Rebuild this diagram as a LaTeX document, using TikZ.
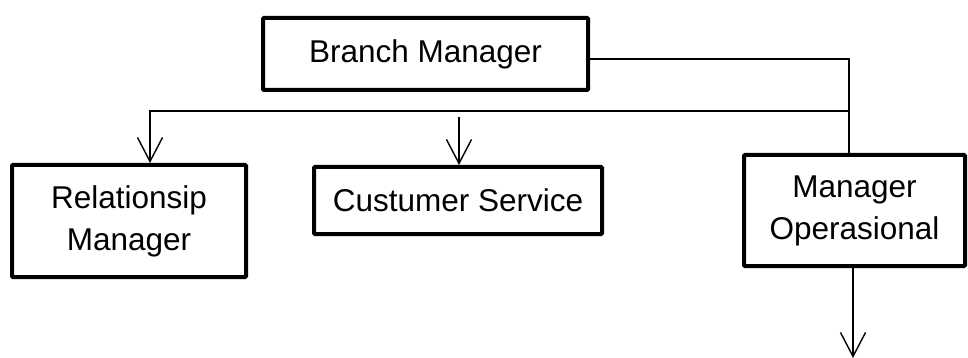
\documentclass[tikz,border=0pt]{standalone}
\usepackage{fontspec}
\setmainfont{Liberation Sans}
\usetikzlibrary{arrows.meta}
\begin{document}
\begin{tikzpicture}[x=1pt,y=-1pt,
  box/.style={draw=black,line width=4pt,rectangle,align=center,inner sep=0pt,
    rounded corners=1pt,font=\fontsize{31.5}{42}\selectfont},
  conn/.style={draw=black,line width=1.4pt},
  arr/.style={conn,-{Straight Barb[length=24pt,width=25pt,line width=1.4pt]}}]
\useasboundingbox (0,0) rectangle (968,358);
\node[box,minimum width=325pt,minimum height=72pt] (bm) at (425.5,54) {Branch Manager};
\node[box,minimum width=234pt,minimum height=112pt] (rm) at (129,221) {Relationsip\\Manager};
\node[box,minimum width=288pt,minimum height=67pt] (cs) at (458,200.5) {Custumer Service};
\node[box,minimum width=221pt,minimum height=111pt] (mo) at (854.5,210.5) {Manager\\Operasional};
\coordinate (j) at (849,59);
\coordinate (h) at (849,111);
\coordinate (hl) at (150,111);
\coordinate (cst) at (459,117);
\coordinate (bot) at (853,358);
\draw[conn] (bm.east |- j) -- (j) -- (j |- mo.north);
\draw[arr] (h) -- (hl) -- (hl |- rm.north);
\draw[arr] (cst) -- (cst |- cs.north);
\draw[arr] (bot |- mo.south) -- (bot);
\end{tikzpicture}
\end{document}
